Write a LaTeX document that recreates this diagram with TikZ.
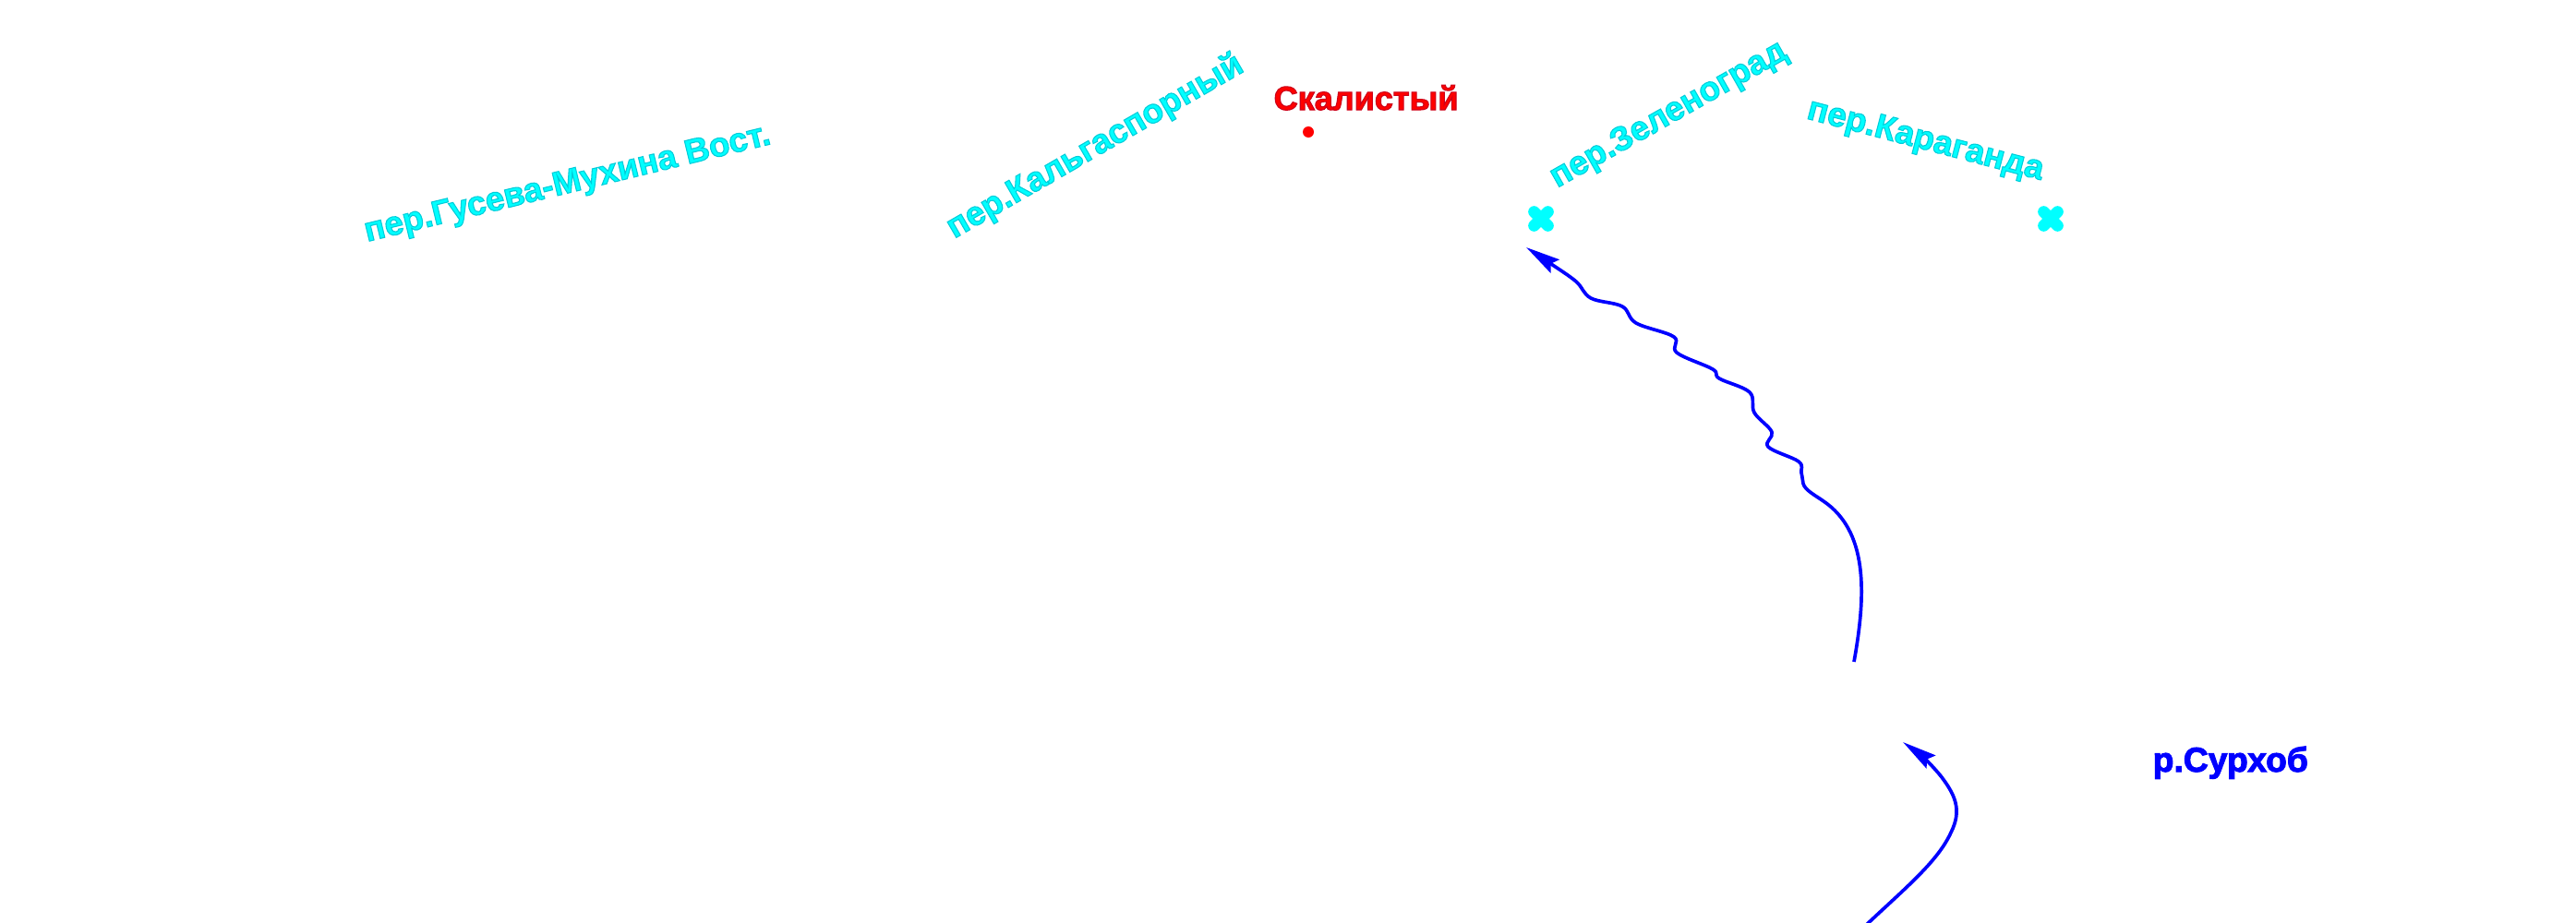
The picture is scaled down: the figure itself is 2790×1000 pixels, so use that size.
\documentclass[tikz,border=0pt]{standalone}
\usepackage{fontspec}
\setmainfont{Liberation Sans}[BoldFont={Liberation Sans Bold}]
\usetikzlibrary{arrows.meta}
\definecolor{acyan}{RGB}{0,255,255}
\definecolor{ared}{RGB}{255,0,0}
\definecolor{ablue}{RGB}{0,0,255}
\newcommand{\olined}[2]{\special{pdf:code q 2 Tr 0.3 w #1 RG}#2\special{pdf:code Q}}
\tikzset{
  x=0.01cm,y=-0.01cm,
  lbl/.style={inner sep=0pt,anchor=base west,font=\fontsize{10.45pt}{13pt}\selectfont\bfseries},
  passlbl/.style={lbl,text=acyan},
  river/.style={draw=ablue,line width=1.05pt,line join=round,-{Stealth[length=37*0.2845pt,width=17*0.2845pt,inset=5*0.2845pt]}},
  passmark/.style={draw=acyan,line width=3.6pt,line cap=round},
}
\begin{document}
\begin{tikzpicture}
\useasboundingbox (0,0) rectangle (2790,1000);
\clip (0,0) rectangle (2790,1000);
\node[passlbl,rotate=13.6] (gus) at (397,262) {\olined{0 0.8 0.85}{пер.Гусева-Мухина Вост.}};
\node[passlbl,rotate=30] (kal) at (1033,259) {\olined{0 0.8 0.85}{пер.Кальгаспорный}};
\node[passlbl,rotate=29.5] (zel) at (1686,204) {\olined{0 0.8 0.85}{пер.Зеленоград}};
\node[passlbl,rotate=-14.7] (kar) at (1955,128) {\olined{0 0.8 0.85}{пер.Караганда}};
\node[lbl,text=ared,font=\fontsize{10.25pt}{13pt}\selectfont\bfseries] (ska) at (1379,119) {\olined{0.8 0 0.1}{Скалистый}};
\node[lbl,text=ablue,font=\fontsize{10.6pt}{13pt}\selectfont\bfseries] (sur) at (2331,836) {\olined{0 0 1}{р.Сурхоб}};
\node[circle,fill=ared,inner sep=0pt,minimum size=12*0.2845pt] (dot) at (1417,143) {};
\coordinate (m1) at (1669,237);
\coordinate (m2) at (2221,237);
\draw[passmark] ([shift={(-7.5,-7.5)}]m1) -- ([shift={(7.5,7.5)}]m1);
\draw[passmark] ([shift={(-7.5,7.5)}]m1) -- ([shift={(7.5,-7.5)}]m1);
\draw[passmark] ([shift={(-7.5,-7.5)}]m2) -- ([shift={(7.5,7.5)}]m2);
\draw[passmark] ([shift={(-7.5,7.5)}]m2) -- ([shift={(7.5,-7.5)}]m2);
\coordinate (r1s) at (2008,717);
\coordinate (r1t) at (1653,268);
\coordinate (r2s) at (2015,1008);
\coordinate (r2t) at (2061,804);
\draw[river] (r1s) .. controls (2022,640) and (2022,575) .. (1975,543) .. controls (1965,536) and (1955,531) .. (1953,524)
  -- plot[smooth,tension=0.6] coordinates {(1953,524) (1951,512) (1948,500) (1915,484) (1919,468) (1900,447) (1895,425) (1862,410) (1855,400) (1816,382) (1813,365) (1772,350) (1757,332) (1723,323) (1707,305) (1680,286) (r1t)};
\draw[river] (r2s) .. controls (2060,965) and (2098,935) .. (2113,902) .. controls (2125,878) and (2118,862) .. (2103,842) .. controls (2092,828) and (2078,816) .. (r2t);
\end{tikzpicture}
\end{document}
